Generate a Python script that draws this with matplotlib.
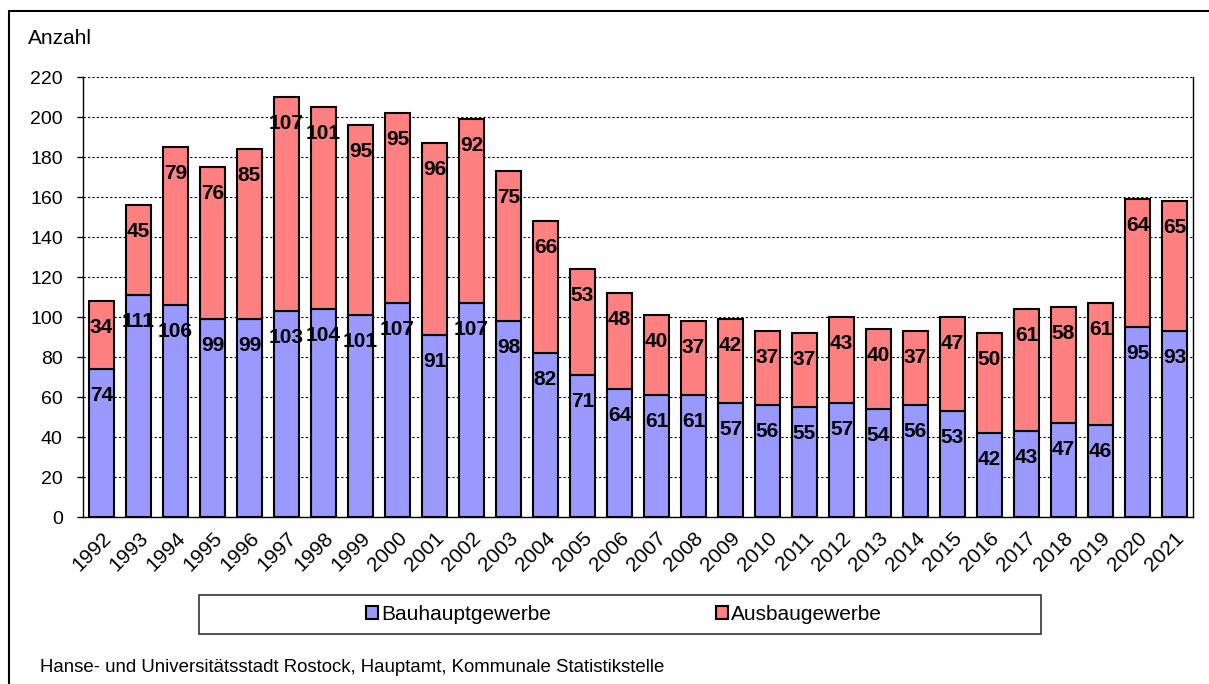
import matplotlib.pyplot as plt
from matplotlib.patches import Rectangle, Patch

plt.rcParams['font.family'] = ['Liberation Sans', 'DejaVu Sans']

# Daten
jahre = [str(j) for j in range(1992, 2022)]
bauhaupt = [74, 111, 106, 99, 99, 103, 104, 101, 107, 91, 107, 98, 82, 71, 64,
            61, 61, 57, 56, 55, 57, 54, 56, 53, 42, 43, 47, 46, 95, 93]
ausbau = [34, 45, 79, 76, 85, 107, 101, 95, 95, 96, 92, 75, 66, 53, 48,
          40, 37, 42, 37, 37, 43, 40, 37, 47, 50, 61, 58, 61, 64, 65]

W, H = 1209, 684
fig = plt.figure(figsize=(W / 100, H / 100), dpi=100)
ax = fig.add_axes([83 / W, 1 - 517 / H, (1193 - 83) / W, (517 - 77) / H])

x = list(range(len(jahre)))
ax.bar(x, bauhaupt, width=0.7, color='#9999FF', edgecolor='black', linewidth=1.5,
       label='Bauhauptgewerbe', zorder=3)
ax.bar(x, ausbau, width=0.7, bottom=bauhaupt, color='#FF8080', edgecolor='black',
       linewidth=1.5, label='Ausbaugewerbe', zorder=3)

# Beschriftungen innen am Ende
for i in x:
    ax.annotate(str(bauhaupt[i]), (i, bauhaupt[i]), xytext=(0, -19), textcoords='offset points',
                ha='center', va='center', fontsize=15, fontweight='bold', zorder=4)
    ax.annotate(str(ausbau[i]), (i, bauhaupt[i] + ausbau[i]), xytext=(0, -19),
                textcoords='offset points', ha='center', va='center', fontsize=15,
                fontweight='bold', zorder=4)

ax.set_xlim(-0.5, len(jahre) - 0.5)
ax.set_ylim(0, 220)
ax.set_yticks(range(0, 221, 20))
ax.tick_params(axis='y', labelsize=14, length=4.5, width=1, pad=10)
ax.set_xticks(x)
ax.set_xticklabels(jahre, rotation=45, ha='right', rotation_mode='anchor', fontsize=15)
ax.tick_params(axis='x', length=0, pad=8)
ax.yaxis.grid(True, linestyle=(0, (2, 2)), color='black', linewidth=0.8, zorder=0)
ax.spines['top'].set_visible(False)
for s in ['left', 'bottom', 'right']:
    ax.spines[s].set_color('black')
    ax.spines[s].set_linewidth(1)

fig.text(28 / W, 1 - 38 / H, 'Anzahl', fontsize=15, va='center', ha='left')

# Legende mit Rahmen
fig.add_artist(Rectangle((199 / W, 1 - 634 / H), (1041 - 199) / W, 39 / H,
                         transform=fig.transFigure, fill=False, edgecolor='#333333', linewidth=1.2))
handles = [Patch(facecolor='#9999FF', edgecolor='black', linewidth=1.5),
           Patch(facecolor='#FF8080', edgecolor='black', linewidth=1.5)]
fig.legend(handles, ['Bauhauptgewerbe', 'Ausbaugewerbe'], loc='center',
           bbox_to_anchor=(624 / W, 1 - 614.5 / H), ncol=2, frameon=False, fontsize=15,
           handlelength=0.6, handleheight=0.6, handletextpad=0.15, columnspacing=7.9)

fig.text(40 / W, 1 - 667 / H,
         'Hanse- und Universitätsstadt Rostock, Hauptamt, Kommunale Statistikstelle',
         fontsize=13.4, va='center', ha='left')

# Rahmen um die Grafik
fig.add_artist(Rectangle((9 / W, -0.1), 1.1, 1.1 - 11 / H, transform=fig.transFigure,
                         fill=False, edgecolor='black', linewidth=1.5))

fig.savefig('out.png', dpi=100)
